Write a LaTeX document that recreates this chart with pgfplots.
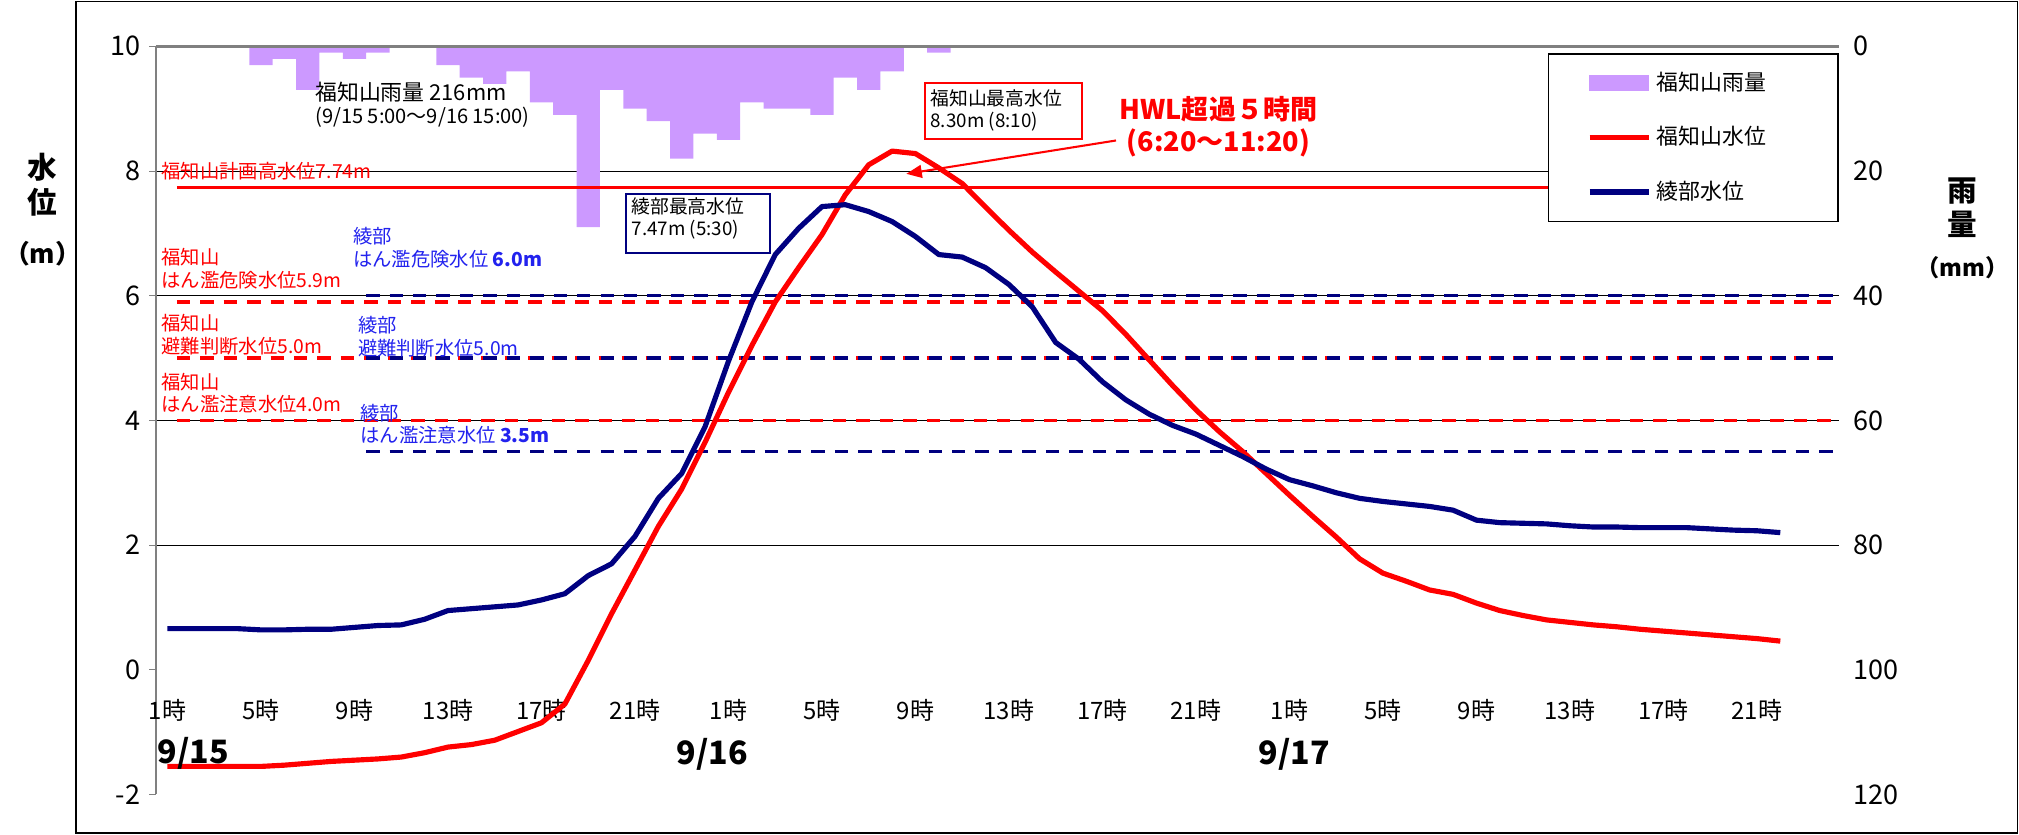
\documentclass[border=0pt]{standalone}
\usepackage{fontspec}
\setmainfont{Noto Sans CJK JP}
\usepackage{pgfplots}
\pgfplotsset{compat=1.18}
\usetikzlibrary{arrows.meta}
\definecolor{rainc}{HTML}{CC99FF}
\definecolor{fred}{HTML}{FF0000}
\definecolor{anavy}{HTML}{000080}
\definecolor{ablue}{HTML}{2222EE}

\pgfplotstableread{
h mm
5 3
6 2
7 7
8 1
9 2
10 1
11 0
12 0
13 3
14 5
15 6
16 4
17 9
18 11
19 29
20 7
21 10
22 12
23 18
24 14
25 15
26 9
27 10
28 10
29 11
30 5
31 7
32 4
33 0
34 1
}\rain

\pgfplotstableread{
h v
1 -1.55
2 -1.55
3 -1.55
4 -1.55
5 -1.55
6 -1.53
7 -1.50
8 -1.47
9 -1.45
10 -1.43
11 -1.40
12 -1.33
13 -1.24
14 -1.20
15 -1.13
16 -0.99
17 -0.85
18 -0.55
19 0.15
20 0.90
21 1.60
22 2.30
23 2.90
24 3.65
25 4.45
26 5.20
27 5.90
28 6.45
29 6.98
30 7.62
31 8.10
32 8.32
33 8.28
34 8.05
35 7.80
36 7.42
37 7.05
38 6.70
39 6.38
40 6.07
41 5.76
42 5.38
43 4.97
44 4.56
45 4.17
46 3.82
47 3.50
48 3.15
49 2.80
50 2.46
51 2.13
52 1.78
53 1.55
54 1.42
55 1.28
56 1.21
57 1.07
58 0.95
59 0.87
60 0.80
61 0.76
62 0.72
63 0.69
64 0.65
65 0.62
66 0.59
67 0.56
68 0.53
69 0.50
70 0.46
}\fuku

\pgfplotstableread{
h v
1 0.66
2 0.66
3 0.66
4 0.66
5 0.64
6 0.64
7 0.65
8 0.65
9 0.68
10 0.71
11 0.72
12 0.81
13 0.95
14 0.98
15 1.01
16 1.04
17 1.12
18 1.22
19 1.51
20 1.70
21 2.14
22 2.75
23 3.15
24 3.90
25 4.95
26 5.90
27 6.66
28 7.08
29 7.43
30 7.46
31 7.35
32 7.19
33 6.95
34 6.66
35 6.62
36 6.45
37 6.18
38 5.82
39 5.25
40 4.98
41 4.62
42 4.33
43 4.10
44 3.92
45 3.78
46 3.60
47 3.42
48 3.22
49 3.05
50 2.95
51 2.84
52 2.75
53 2.70
54 2.66
55 2.62
56 2.56
57 2.40
58 2.36
59 2.35
60 2.34
61 2.31
62 2.29
63 2.29
64 2.28
65 2.28
66 2.28
67 2.26
68 2.24
69 2.23
70 2.20
}\ayabe

\pgfplotsset{
  base/.style={scale only axis, width=653.5pt, height=290.5pt,
    at={(60.5pt,15.5pt)}, anchor=south west, xmin=0.5, xmax=72.5,
    /pgf/number format/assume math mode=true},
  rainleg/.style={legend image code/.code={\fill[rainc] (0pt,-3pt) rectangle (23pt,3pt);}},
  lineleg/.style={legend image code/.code={\draw[##1] (0pt,0pt) -- (23pt,0pt);}},
}

\begin{document}
\begin{tikzpicture}[x=1pt,y=1pt]
\useasboundingbox (0,0) rectangle (784,324);
\draw[black, line width=0.5pt] (29.5,0.5) rectangle (783.5,323.5);

% rainfall axis (right, reversed)
\begin{axis}[base,
  ymin=0, ymax=120, y dir=reverse,
  axis x line=none, axis y line*=right,
  y axis line style={draw=none}, ytick style={draw=none},
  ytick={0,20,...,120},
  yticklabel style={font=\fontsize{10.5}{12}\selectfont, anchor=west, xshift=2pt},
  extra y ticks={20,40,60,80}, extra y tick labels={},
  extra y tick style={grid=major},
  major grid style={black, line width=0.4pt},
]
\addplot[ybar, bar width=1, fill=rainc, draw=none] table[x=h, y=mm] {\rain};
\end{axis}

% water level axis (left)
\begin{axis}[base,
  ymin=-2, ymax=10, ytick={-2,0,...,10},
  axis y line*=left, axis x line*=bottom,
  x axis line style={draw=none}, xtick style={draw=none},
  y axis line style={gray, line width=0.8pt},
  ytick style={gray, line width=0.4pt},
  tick align=outside, major tick length=2.5pt,
  yticklabel style={font=\fontsize{10.5}{12}\selectfont},
  xtick={1,5,...,69},
  xticklabels={1時,5時,9時,13時,17時,21時,1時,5時,9時,13時,17時,21時,1時,5時,9時,13時,17時,21時},
  xticklabel style={font=\fontsize{9.3}{10}\selectfont, anchor=center, yshift=35pt},
  clip=false,
  legend style={at={(1,0.9907)}, anchor=north east, draw=black, line width=0.5pt,
    fill=white, font=\fontsize{8.5}{10}\selectfont, inner xsep=15pt, inner ysep=5pt,
    row sep=8.5pt},
  legend cell align=left,
]
\draw[gray, line width=0.9pt] (rel axis cs:0,1) -- (rel axis cs:1,1);
% threshold lines
\addplot[fred, line width=1.2pt, forget plot] coordinates {(1.4,7.74) (72.5,7.74)};
\addplot[fred, line width=1.25pt, dash pattern=on 5.2pt off 3.9pt, forget plot] coordinates {(1.4,5.9) (72.5,5.9)};
\addplot[fred, line width=1.25pt, dash pattern=on 5.2pt off 3.9pt, forget plot] coordinates {(1.4,5.0) (72.5,5.0)};
\addplot[fred, line width=1.25pt, dash pattern=on 5.2pt off 3.9pt, forget plot] coordinates {(1.4,4.0) (72.5,4.0)};
\addplot[anavy, line width=1.35pt, dash pattern=on 5.2pt off 3.9pt, forget plot] coordinates {(9.5,6.0) (72.5,6.0)};
\addplot[anavy, line width=1.35pt, dash pattern=on 5.2pt off 3.9pt, forget plot] coordinates {(9.5,5.0) (72.5,5.0)};
\addplot[anavy, line width=1.35pt, dash pattern=on 5.2pt off 3.9pt, forget plot] coordinates {(9.5,3.5) (72.5,3.5)};

\addlegendimage{rainleg}
\addlegendentry{福知山雨量\hspace*{11pt}}
\addplot[fred, line width=2pt, line join=round, lineleg] table[x=h, y=v] {\fuku};
\addlegendentry{福知山水位\hspace*{11pt}}
\addplot[anavy, line width=2pt, line join=round, lineleg] table[x=h, y=v] {\ayabe};
\addlegendentry{綾部水位\hspace*{11pt}}

% rainfall note
\node[anchor=west, font=\fontsize{8.5}{10}\selectfont, inner sep=0pt] at (axis cs:7.3,9.26) {福知山雨量 216mm};
\node[anchor=west, font=\fontsize{7.8}{9}\selectfont, inner sep=0pt] at (axis cs:7.3,8.86) {(9/15 5:00～9/16 15:00)};

% max level boxes
\node[draw=fred, line width=0.8pt, fill=white, anchor=north west, minimum width=60.75pt, minimum height=21.6pt, inner sep=0pt] (fb) at (axis cs:33.37,9.424) {};
\node[anchor=north west, align=left, font=\fontsize{7.3}{8.8}\selectfont, inner sep=0pt] at ([shift={(2.3pt,-2.6pt)}]fb.north west) {福知山最高水位\\8.30m (8:10)};
\node[draw=anavy, line width=0.8pt, fill=white, anchor=north west, minimum width=56pt, minimum height=23pt, inner sep=0pt] (ab) at (axis cs:20.58,7.645) {};
\node[anchor=north west, align=left, font=\fontsize{7.3}{8.6}\selectfont, inner sep=0pt] at ([shift={(2.3pt,-1.5pt)}]ab.north west) {綾部最高水位\\7.47m (5:30)};

% HWL note
\node[text=fred, align=center, font=\bfseries\fontsize{10.5}{12.4}\selectfont] at (axis cs:45.96,8.715) {HWL超過５時間\\(6:20～11:20)};
\draw[fred, line width=0.8pt, -{Triangle[length=6pt,width=5pt]}] (axis cs:41.58,8.49) -- (axis cs:32.61,7.955);

% Fukuchiyama threshold labels
\node[text=fred, anchor=west, font=\fontsize{7.5}{8.85}\selectfont, inner sep=0pt] at (axis cs:0.72,8.0) {福知山計画高水位7.74m};
\node[text=fred, anchor=west, align=left, font=\fontsize{7.5}{8.85}\selectfont, inner sep=0pt] at (axis cs:0.72,6.436) {福知山\\はん濫危険水位5.9m};
\node[text=fred, anchor=west, align=left, font=\fontsize{7.5}{8.85}\selectfont, inner sep=0pt] at (axis cs:0.72,5.369) {福知山\\避難判断水位5.0m};
\node[text=fred, anchor=west, align=left, font=\fontsize{7.5}{8.85}\selectfont, inner sep=0pt] at (axis cs:0.72,4.437) {福知山\\はん濫注意水位4.0m};

% Ayabe threshold labels
\node[text=ablue, anchor=west, align=left, font=\fontsize{7.5}{8.85}\selectfont, inner sep=0pt] at (axis cs:8.93,6.766) {綾部\\はん濫危険水位 {\bfseries 6.0m}};
\node[text=ablue, anchor=west, align=left, font=\fontsize{7.5}{8.85}\selectfont, inner sep=0pt] at (axis cs:9.13,5.346) {綾部\\避難判断水位5.0m};
\node[text=ablue, anchor=west, align=left, font=\fontsize{7.5}{8.85}\selectfont, inner sep=0pt] at (axis cs:9.24,3.94) {綾部\\はん濫注意水位 {\bfseries 3.5m}};

% dates
\node[font=\bfseries\fontsize{12.5}{14}\selectfont] at (axis cs:2.1,-1.34) {9/15};
\node[font=\bfseries\fontsize{12.5}{14}\selectfont] at (axis cs:24.3,-1.36) {9/16};
\node[font=\bfseries\fontsize{12.5}{14}\selectfont] at (axis cs:49.2,-1.36) {9/17};
\end{axis}

% axis titles
\node[font=\bfseries\fontsize{11.5}{12}\selectfont] at (16.5,259) {水};
\node[font=\bfseries\fontsize{11.5}{12}\selectfont] at (16.5,245.5) {位};
\node[font=\bfseries\fontsize{10}{11}\selectfont] at (16.5,225.5) {（m）};
\node[font=\bfseries\fontsize{11.5}{12}\selectfont] at (762,250) {雨};
\node[font=\bfseries\fontsize{11.5}{12}\selectfont] at (762,237) {量};
\node[font=\bfseries\fontsize{9}{10}\selectfont] at (762,220) {（mm）};
\end{tikzpicture}
\end{document}
